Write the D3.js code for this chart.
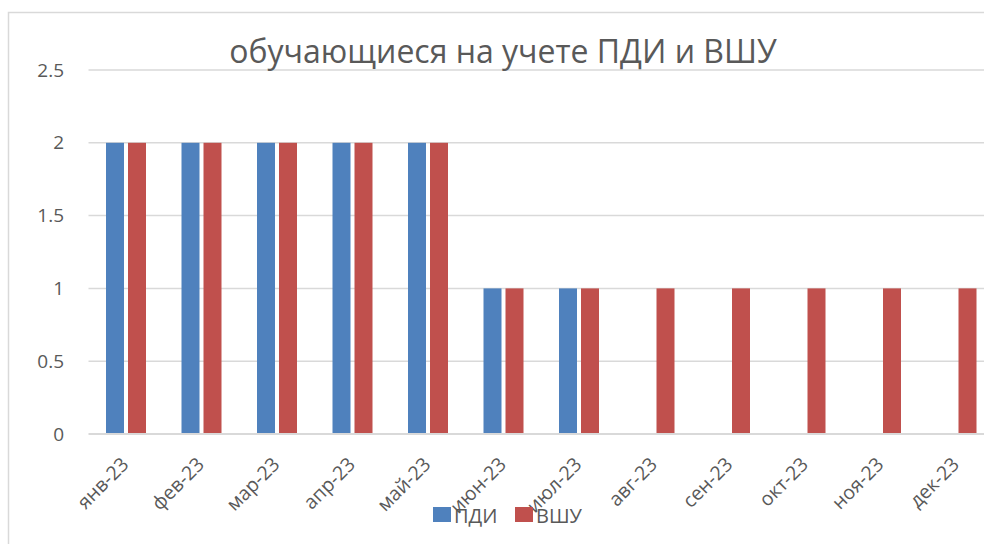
<!DOCTYPE html>
<html><head><meta charset="utf-8">
<script src="https://cdn.jsdelivr.net/npm/d3@7"></script>
<style>
html,body{margin:0;padding:0;background:#fff;overflow:hidden}
text{font-family:"Open Sans","Noto Sans",sans-serif;fill:#595959}
</style></head>
<body>
<svg id="c" width="984" height="544"></svg>
<script>
const title = "обучающиеся на учете ПДИ и ВШУ";
const categories = ["янв-23","фев-23","мар-23","апр-23","май-23","июн-23","июл-23","авг-23","сен-23","окт-23","ноя-23","дек-23"];
const seriesNames = ["ПДИ","ВШУ"];
const pdiValues = [2,2,2,2,2,1,1,0,0,0,0,0];
const vshuValues = [2,2,2,2,2,1,1,1,1,1,1,1];
const yTicks = [0,0.5,1,1.5,2,2.5];
const colors = ["#4F81BD","#C0504D"];

const svg = d3.select("#c");
// chart border
svg.append("rect").attr("x",8.5).attr("y",12.5).attr("width",1100).attr("height",700)
  .attr("fill","none").attr("stroke","#d9d9d9").attr("stroke-width",1.5);

const pLeft = 88.5, pRight = 994.5, pTop = 70, pBottom = 434;
const x0 = d3.scaleBand().domain(categories).range([pLeft,pRight]).padding(0);
const x1 = d3.scaleBand().domain(seriesNames).range([17.5,57.5]).paddingInner(4/22).paddingOuter(0);
const y = d3.scaleLinear().domain([0,2.5]).range([pBottom,pTop]);

// gridlines
const grid = svg.append("g");
grid.selectAll("line").data(yTicks.filter(t=>t>0)).join("line")
  .attr("x1",pLeft).attr("x2",984).attr("y1",d=>y(d)).attr("y2",d=>y(d))
  .attr("stroke","#d9d9d9").attr("stroke-width",1.5);

// y axis labels
const yAxis = d3.axisLeft(y).tickValues(yTicks).tickSize(0).tickPadding(0).tickFormat(d=>String(d));
const yg = svg.append("g").attr("transform","translate(64,0)").call(yAxis);
yg.select(".domain").remove();
yg.selectAll("text").attr("font-size","19px").attr("fill","#595959").style("font-family",'"Open Sans",sans-serif');

// bars
const data = categories.map((c,i)=>({c, vals:[pdiValues[i], vshuValues[i]]}));
const groups = svg.append("g").selectAll("g").data(data).join("g")
  .attr("transform",d=>`translate(${x0(d.c)},0)`);
groups.selectAll("rect").data(d=>d.vals.map((v,j)=>({s:seriesNames[j],v,j}))).join("rect")
  .attr("x",d=>x1(d.s)).attr("width",x1.bandwidth())
  .attr("y",d=>y(d.v)).attr("height",d=>y(0)-y(d.v))
  .attr("fill",d=>colors[d.j]);

// zero axis line
svg.append("line").attr("x1",pLeft).attr("x2",984).attr("y1",y(0)).attr("y2",y(0))
  .attr("stroke","#d9d9d9").attr("stroke-width",2);

// x axis labels
const xAxis = d3.axisBottom(x0).tickSize(0).tickPadding(0);
const xg = svg.append("g").attr("transform",`translate(0,${pBottom})`).call(xAxis);
xg.select(".domain").remove();
xg.selectAll("text")
  .attr("font-size","19.5px").attr("fill","#595959").style("font-family",'"Open Sans",sans-serif')
  .attr("text-anchor","end").attr("dy",null).attr("y",0)
  .attr("transform","translate(0,28) rotate(-45)")
  .attr("dominant-baseline","middle");

// title
svg.append("text").attr("x",503).attr("y",63).attr("text-anchor","middle")
  .attr("font-size","32px").attr("fill","#595959").text(title);

// legend
const lg = svg.append("g");
const legendX = [433, 515];
seriesNames.forEach((s,i)=>{
  lg.append("rect").attr("x",legendX[i]).attr("y",507).attr("width",18).attr("height",15).attr("fill",colors[i]);
  lg.append("text").attr("x",legendX[i]+21).attr("y",523).attr("font-size","20px").attr("fill","#595959").text(s);
});
</script>
</body></html>
